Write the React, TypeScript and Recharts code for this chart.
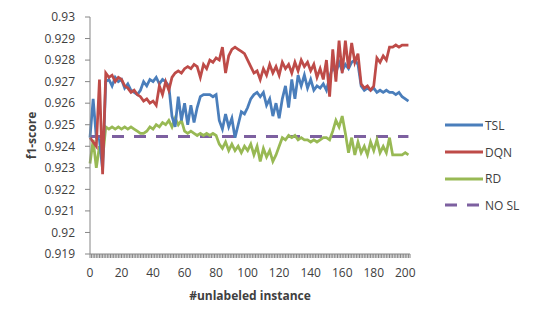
import { LineChart, Line, XAxis, YAxis } from 'recharts';

// #unlabeled instance (sampled every 2)
const instances = [
  0, 2, 4, 6, 8, 10, 12, 14, 16, 18,
  20, 22, 24, 26, 28, 30, 32, 34, 36, 38,
  40, 42, 44, 46, 48, 50, 52, 54, 56, 58,
  60, 62, 64, 66, 68, 70, 72, 74, 76, 78,
  80, 82, 84, 86, 88, 90, 92, 94, 96, 98,
  100, 102, 104, 106, 108, 110, 112, 114, 116, 118,
  120, 122, 124, 126, 128, 130, 132, 134, 136, 138,
  140, 142, 144, 146, 148, 150, 152, 154, 156, 158,
  160, 162, 164, 166, 168, 170, 172, 174, 176, 178,
  180, 182, 184, 186, 188, 190, 192, 194, 196, 198,
  200, 202,
];

const tsl = [
  0.9244, 0.9262, 0.9244, 0.9243, 0.9229, 0.927, 0.9271, 0.9268, 0.9272, 0.927,
  0.9271, 0.9267, 0.9269, 0.9266, 0.9265, 0.9264, 0.9266, 0.927, 0.9268, 0.9271,
  0.927, 0.9272, 0.9269, 0.9271, 0.927, 0.9268, 0.9254, 0.9249, 0.9263, 0.9252,
  0.926, 0.925, 0.9259, 0.9251, 0.9258, 0.9263, 0.9264, 0.9264, 0.9264, 0.9263,
  0.9264, 0.9252, 0.9248, 0.9255, 0.9249, 0.9253, 0.9244, 0.925, 0.9256, 0.9255,
  0.9258, 0.9262, 0.9264, 0.9265, 0.9263, 0.9265, 0.9259, 0.9262, 0.9254, 0.926,
  0.9253, 0.9262, 0.9268, 0.9258, 0.9271, 0.9262, 0.9273, 0.9268, 0.9273, 0.9267,
  0.9271, 0.9266, 0.9268, 0.9267, 0.9269, 0.9266, 0.9272, 0.9277, 0.9274, 0.9279,
  0.9275, 0.9278, 0.9276, 0.9279, 0.928, 0.9278, 0.9268, 0.9266, 0.9267, 0.9266,
  0.9267, 0.9265, 0.9266, 0.9265, 0.9266, 0.9265, 0.9265, 0.9264, 0.9265, 0.9263,
  0.9262, 0.9261,
];

const dqn = [
  0.9244, 0.9242, 0.924, 0.9271, 0.9227, 0.9274, 0.9272, 0.9273, 0.927, 0.9272,
  0.9271, 0.9268, 0.9267, 0.9265, 0.9266, 0.9264, 0.9263, 0.9261, 0.9262, 0.926,
  0.9261, 0.9259, 0.9268, 0.9264, 0.927, 0.9266, 0.9272, 0.9274, 0.9275, 0.9274,
  0.9276, 0.9277, 0.9276, 0.9278, 0.9277, 0.9272, 0.9278, 0.9276, 0.928, 0.9279,
  0.9281, 0.928, 0.9286, 0.9274, 0.9282, 0.9285, 0.9286, 0.9285, 0.9284, 0.9283,
  0.928, 0.9277, 0.9274, 0.9275, 0.9271, 0.9276, 0.9273, 0.9278, 0.9274, 0.9277,
  0.9273, 0.9279, 0.9276, 0.9278, 0.9274, 0.9279, 0.9275, 0.928, 0.9277, 0.9279,
  0.9275, 0.9278, 0.9272, 0.9276, 0.9271, 0.928, 0.9263, 0.9285, 0.927, 0.9289,
  0.9274, 0.9289, 0.9276, 0.9288, 0.9279, 0.9283, 0.9269, 0.9267, 0.9268, 0.9266,
  0.9268, 0.9281, 0.9279, 0.9282, 0.928, 0.9286, 0.9286, 0.9287, 0.9286, 0.9287,
  0.9287, 0.9287,
];

const rd = [
  0.9232, 0.9243, 0.923, 0.924, 0.9234, 0.9249, 0.9248, 0.9249, 0.9248, 0.9249,
  0.9248, 0.9249, 0.9248, 0.9249, 0.9248, 0.9247, 0.9246, 0.9246, 0.9247, 0.9249,
  0.9248, 0.925, 0.9249, 0.9251, 0.925, 0.9252, 0.9249, 0.9253, 0.925, 0.9252,
  0.9247, 0.9246, 0.9247, 0.9246, 0.9245, 0.9246, 0.9245, 0.9246, 0.9245, 0.9246,
  0.9245, 0.9241, 0.9239, 0.9242, 0.9238, 0.9241, 0.9238, 0.924, 0.9237, 0.924,
  0.9238, 0.9241, 0.9236, 0.924, 0.9233, 0.9239, 0.9235, 0.9238, 0.9233, 0.9236,
  0.924, 0.9244, 0.9243, 0.9245, 0.9244, 0.9245, 0.9243, 0.9244, 0.9243, 0.9243,
  0.9242, 0.9243, 0.9242, 0.9243, 0.9244, 0.9244, 0.9243, 0.9247, 0.9252, 0.9249,
  0.9254, 0.9246, 0.9237, 0.9244, 0.9236, 0.9242, 0.9237, 0.924, 0.9236, 0.9242,
  0.9238, 0.9243, 0.9237, 0.924, 0.9237, 0.9244, 0.9236, 0.9236, 0.9236, 0.9236,
  0.9237, 0.9236,
];

// baseline without self-learning
const noSlX = [0, 202];
const noSl = [0.92445, 0.92445];

const yTicks = [0.919, 0.92, 0.921, 0.922, 0.923, 0.924, 0.925, 0.926, 0.927, 0.928, 0.929, 0.93];
const xLabels = [0, 20, 40, 60, 80, 100, 120, 140, 160, 180, 200];

const data = instances.map((x, i) => ({ x, TSL: tsl[i], DQN: dqn[i], RD: rd[i] }));
const noSlData = noSlX.map((x, i) => ({ x, NOSL: noSl[i] }));
// one small tick mark per instance, like the category axis
const xTicks = Array.from({ length: 204 }, (_, i) => i);

const FONT = '"Open Sans", sans-serif';
const TEXT = '#404040';
const AXIS = '#868686';

const series = [
  { name: 'TSL', color: '#4a7ebb', dash: undefined },
  { name: 'DQN', color: '#be4b48', dash: undefined },
  { name: 'RD', color: '#98b954', dash: undefined },
  { name: 'NO SL', color: '#7d60a0', dash: '12 10' },
];

const XTick = (props: any) => {
  const { x, y, payload } = props;
  if (!xLabels.includes(payload.value)) return <g />;
  return (
    <text x={x} y={y} dy="0.71em" textAnchor="middle" fill={TEXT} fontSize={12} fontFamily={FONT}>
      {payload.value}
    </text>
  );
};

const Legend = () => (
  <div style={{ position: 'absolute', left: 445, top: 112, fontFamily: FONT, fontSize: 12, color: TEXT }}>
    {series.map((s) => (
      <div key={s.name} style={{ display: 'flex', alignItems: 'center', height: 26.7 }}>
        <svg width={40} height={6}>
          <line x1={0} y1={3} x2={38} y2={3} stroke={s.color} strokeWidth={3} strokeDasharray={s.dash} />
        </svg>
        <span>{s.name}</span>
      </div>
    ))}
  </div>
);

export default function App() {
  return (
    <div style={{ position: 'absolute', left: 0, top: 0, width: 538, height: 323, background: '#fff' }}>
      <LineChart width={538} height={323} data={data} margin={{ top: 17, right: 128, bottom: 19, left: 20 }}>
        <XAxis
          dataKey="x"
          type="number"
          domain={[0, 203]}
          ticks={xTicks}
          interval={0}
          tick={<XTick />}
          tickSize={4}
          tickMargin={10}
          stroke={AXIS}
          height={50}
          label={{
            value: '#unlabeled instance',
            position: 'insideBottom',
            offset: 4,
            style: { fontWeight: 'bold', fill: TEXT, fontSize: 12, fontFamily: FONT },
          }}
        />
        <YAxis
          type="number"
          domain={[0.919, 0.93]}
          ticks={yTicks}
          interval={0}
          width={70}
          tickSize={5}
          tickMargin={10}
          stroke={AXIS}
          tickFormatter={(v: number) => String(+v.toFixed(3))}
          tick={{ fill: TEXT, fontSize: 12, fontFamily: FONT }}
          label={{
            value: 'f1-score',
            angle: -90,
            position: 'insideLeft',
            offset: 12,
            style: { textAnchor: 'middle', fontWeight: 'bold', fill: TEXT, fontSize: 12, fontFamily: FONT },
          }}
        />
        <Line dataKey="NOSL" data={noSlData} stroke="#7d60a0" strokeWidth={3} strokeDasharray="12 10" dot={false} activeDot={false} isAnimationActive={false} />
        <Line dataKey="RD" stroke="#98b954" strokeWidth={2.75} dot={false} activeDot={false} isAnimationActive={false} />
        <Line dataKey="TSL" stroke="#4a7ebb" strokeWidth={2.75} dot={false} activeDot={false} isAnimationActive={false} />
        <Line dataKey="DQN" stroke="#be4b48" strokeWidth={2.75} dot={false} activeDot={false} isAnimationActive={false} />
      </LineChart>
      <Legend />
    </div>
  );
}
